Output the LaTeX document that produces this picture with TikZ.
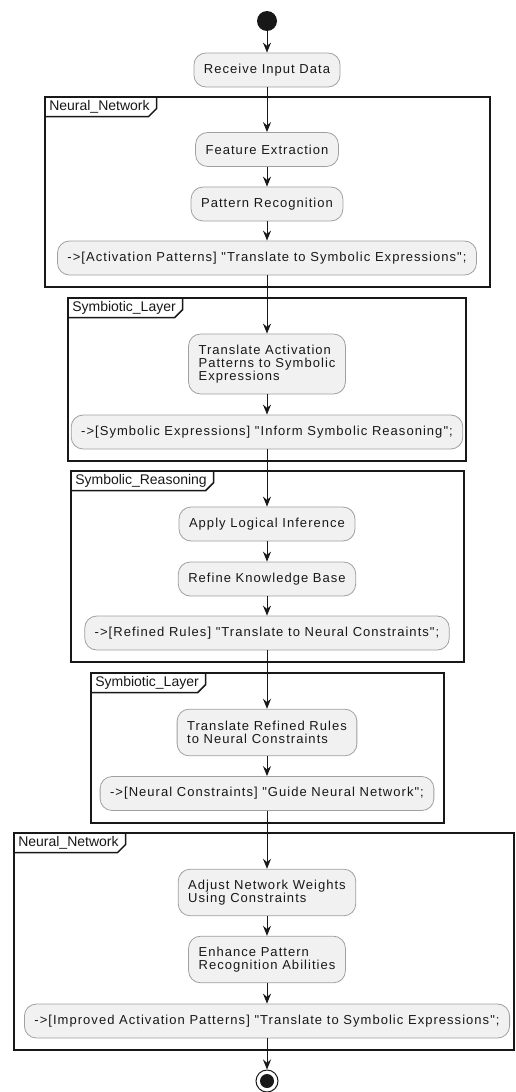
\documentclass[tikz,border=0pt]{standalone}
\usepackage{fontspec}
\usepackage{xcolor}
\usepackage{tikz}
\usetikzlibrary{arrows.meta,positioning,calc}
\newfontfamily\boxfont[LetterSpace=8]{Liberation Sans}
\newfontfamily\framefont{Liberation Sans}
\definecolor{actfill}{HTML}{F1F1F1}
\definecolor{actline}{HTML}{A0A0A0}
\definecolor{umldark}{HTML}{181818}

\begin{document}
\begin{tikzpicture}[x=0.75pt, y=-0.75pt]
  % Define styles
  \tikzstyle{activity} = [rectangle, draw=actline, fill=actfill, rounded corners=9pt, line width=0.6pt, minimum height=25.5pt, inner xsep=7.5pt, inner ysep=2pt, align=left, text=umldark, font=\boxfont\fontsize{9.75}{10}\selectfont]
  \tikzstyle{arrow} = [line width=0.75pt, draw=umldark, -{Stealth[length=7.5pt, width=6pt, inset=2.5pt]}]
  \tikzstyle{group} = [line width=1.1pt, draw=umldark]
  \tikzstyle{grouplabel} = [anchor=north west, inner xsep=3pt, inner ysep=0pt, minimum height=14.25pt, text=umldark, font=\framefont\fontsize{10.5}{12}\selectfont]

  \useasboundingbox (0,0) rectangle (515,1092);

  % Groups
  \draw [group] (45,97) rectangle (490,287);
  \node [grouplabel] (neuralA) at (45,97) {Neural\_Network};
  \draw [group] ([xshift=2pt]neuralA.north east) -- ([xshift=2pt, yshift=6pt]neuralA.south east) -- ([xshift=-4pt]neuralA.south east) -- (neuralA.south west);

  \draw [group] (68,298) rectangle (466,461);
  \node [grouplabel] (symbA) at (68,298) {Symbiotic\_Layer};
  \draw [group] ([xshift=2pt]symbA.north east) -- ([xshift=2pt, yshift=6pt]symbA.south east) -- ([xshift=-4pt]symbA.south east) -- (symbA.south west);

  \draw [group] (71,471) rectangle (464,662);
  \node [grouplabel] (reason) at (71,471) {Symbolic\_Reasoning};
  \draw [group] ([xshift=2pt]reason.north east) -- ([xshift=2pt, yshift=6pt]reason.south east) -- ([xshift=-4pt]reason.south east) -- (reason.south west);

  \draw [group] (91,673) rectangle (444,823);
  \node [grouplabel] (symbB) at (91,673) {Symbiotic\_Layer};
  \draw [group] ([xshift=2pt]symbB.north east) -- ([xshift=2pt, yshift=6pt]symbB.south east) -- ([xshift=-4pt]symbB.south east) -- (symbB.south west);

  \draw [group] (14,833) rectangle (514,1050);
  \node [grouplabel] (neuralB) at (14,833) {Neural\_Network};
  \draw [group] ([xshift=2pt]neuralB.north east) -- ([xshift=2pt, yshift=6pt]neuralB.south east) -- ([xshift=-4pt]neuralB.south east) -- (neuralB.south west);

  % Start and activities
  \node [circle, fill=umldark, minimum size=15pt, inner sep=0pt] (start) at (267,21) {};
  \node [activity] (receive) at (267,70) {Receive Input Data};
  \node [activity] (feature) at (267,149.5) {Feature Extraction};
  \node [activity] (pattern) at (267,204) {Pattern Recognition};
  \node [activity] (actpat) at (267,258) {->[Activation Patterns] "Translate to Symbolic Expressions";};
  \node [activity, minimum height=45pt] (transA) at (267,364) {Translate Activation\\Patterns to Symbolic\\Expressions};
  \node [activity] (symexp) at (267,432) {->[Symbolic Expressions] "Inform Symbolic Reasoning";};
  \node [activity] (logic) at (267,524) {Apply Logical Inference};
  \node [activity] (refine) at (267,579) {Refine Knowledge Base};
  \node [activity] (rules) at (267,633) {->[Refined Rules] "Translate to Neural Constraints";};
  \node [activity, minimum height=35pt] (transB) at (267,732.5) {Translate Refined Rules\\to Neural Constraints};
  \node [activity] (constr) at (267,793.5) {->[Neural Constraints] "Guide Neural Network";};
  \node [activity, minimum height=35pt] (adjust) at (267,892.5) {Adjust Network Weights\\Using Constraints};
  \node [activity, minimum height=35pt] (enhance) at (267,959.5) {Enhance Pattern\\Recognition Abilities};
  \node [activity] (improved) at (267,1021) {->[Improved Activation Patterns] "Translate to Symbolic Expressions";};

  % Stop
  \node [circle, draw=umldark, line width=0.75pt, minimum size=16.5pt, inner sep=0pt] (stop) at (267,1081) {};
  \node [circle, fill=umldark, minimum size=10.5pt, inner sep=0pt] (stopdot) at (stop) {};

  % Control flow
  \draw [arrow] (start) -- (receive);
  \draw [arrow] (receive) -- (feature);
  \draw [arrow] (feature) -- (pattern);
  \draw [arrow] (pattern) -- (actpat);
  \draw [arrow] (actpat) -- (transA);
  \draw [arrow] (transA) -- (symexp);
  \draw [arrow] (symexp) -- (logic);
  \draw [arrow] (logic) -- (refine);
  \draw [arrow] (refine) -- (rules);
  \draw [arrow] (rules) -- (transB);
  \draw [arrow] (transB) -- (constr);
  \draw [arrow] (constr) -- (adjust);
  \draw [arrow] (adjust) -- (enhance);
  \draw [arrow] (enhance) -- (improved);
  \draw [arrow] (improved) -- (stop);

\end{tikzpicture}
\end{document}
